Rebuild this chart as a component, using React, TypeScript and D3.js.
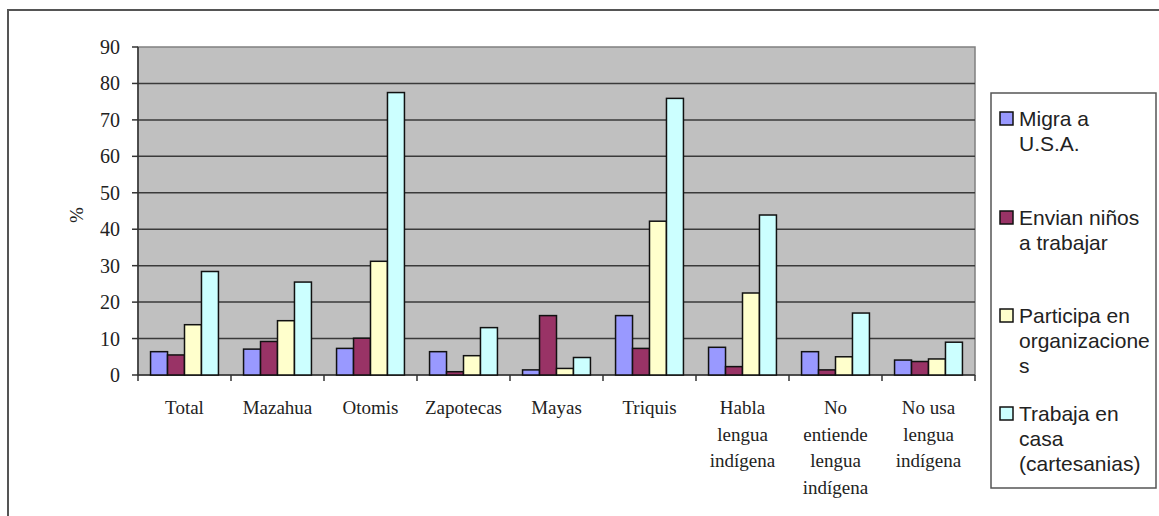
import { useEffect, useRef } from 'react';
import * as d3 from 'd3';

const categories = [
  ["Total"],
  ["Mazahua"],
  ["Otomis"],
  ["Zapotecas"],
  ["Mayas"],
  ["Triquis"],
  ["Habla", "lengua", "indígena"],
  ["No", "entiende", "lengua", "indígena"],
  ["No usa", "lengua", "indígena"],
];

const seriesNames = [
  ["Migra a", "U.S.A."],
  ["Envian niños", "a trabajar"],
  ["Participa en", "organizacione", "s"],
  ["Trabaja en", "casa", "(cartesanias)"],
];

const seriesColors = ["#9999FF", "#993366", "#FFFFCC", "#CCFFFF"];

// one array per series, in category order
const migra = [6.4, 7.1, 7.3, 6.4, 1.4, 16.3, 7.6, 6.4, 4.1];
const envian = [5.5, 9.2, 10.1, 0.9, 16.3, 7.3, 2.3, 1.4, 3.7];
const participa = [13.8, 14.9, 31.2, 5.3, 1.8, 42.2, 22.5, 5.0, 4.4];
const trabaja = [28.4, 25.5, 77.5, 13.0, 4.8, 75.9, 43.9, 17.0, 9.0];

const yTicks = [0, 10, 20, 30, 40, 50, 60, 70, 80, 90];

export default function App() {
  const svgRef = useRef<SVGSVGElement>(null);

  useEffect(() => {
    if (!svgRef.current) return;
    const svg = d3.select(svgRef.current);
    svg.selectAll("*").remove();

    const W = 1159, H = 516;
    const plot = { left: 138, top: 47, right: 975, bottom: 375 };
    const serif = "'Liberation Serif', 'Times New Roman', serif";
    const sans = "'Liberation Sans', Arial, sans-serif";
    const values = [migra, envian, participa, trabaja];

    // outer frame (cut off at right and bottom like the source)
    svg.append("rect")
      .attr("x", 8).attr("y", 10)
      .attr("width", W + 20).attr("height", H + 20)
      .style("fill", "white")
      .style("stroke", "#555")
      .style("stroke-width", 2);

    const y = d3.scaleLinear().domain([0, 90]).range([plot.bottom, plot.top]);
    const x0 = d3.scaleBand<number>()
      .domain(d3.range(categories.length))
      .range([plot.left, plot.right]);
    const gap = x0.bandwidth() * 0.135;
    const x1 = d3.scaleBand<number>()
      .domain(d3.range(values.length))
      .range([gap, x0.bandwidth() - gap]);

    // plot background
    svg.append("rect")
      .attr("x", plot.left).attr("y", plot.top)
      .attr("width", plot.right - plot.left)
      .attr("height", plot.bottom - plot.top)
      .style("fill", "#C0C0C0")
      .style("stroke", "#808080")
      .style("stroke-width", 1.5);

    // gridlines
    yTicks.filter(t => t > 0 && t < 90).forEach(t => {
      svg.append("line")
        .attr("x1", plot.left).attr("x2", plot.right)
        .attr("y1", y(t)).attr("y2", y(t))
        .style("stroke", "#3a3a3a")
        .style("stroke-width", 1.5);
    });

    // y axis
    svg.append("line")
      .attr("x1", plot.left).attr("x2", plot.left)
      .attr("y1", plot.top).attr("y2", plot.bottom)
      .style("stroke", "#333").style("stroke-width", 1.5);
    yTicks.forEach(t => {
      svg.append("line")
        .attr("x1", plot.left - 6).attr("x2", plot.left)
        .attr("y1", y(t)).attr("y2", y(t))
        .style("stroke", "#333").style("stroke-width", 1.5);
      svg.append("text")
        .attr("x", 120).attr("y", y(t))
        .attr("text-anchor", "end")
        .attr("dominant-baseline", "central")
        .style("font-family", serif)
        .style("font-size", "20px")
        .style("fill", "#222")
        .text(t);
    });

    svg.append("text")
      .attr("transform", `translate(76,215) rotate(-90)`)
      .attr("text-anchor", "middle")
      .attr("dominant-baseline", "central")
      .style("font-family", serif)
      .style("font-size", "19px")
      .style("fill", "#222")
      .text("%");

    // x axis
    svg.append("line")
      .attr("x1", plot.left).attr("x2", plot.right)
      .attr("y1", plot.bottom).attr("y2", plot.bottom)
      .style("stroke", "#333").style("stroke-width", 1.5);
    d3.range(categories.length + 1).forEach(i => {
      const xx = i < categories.length ? x0(i)! : plot.right;
      svg.append("line")
        .attr("x1", xx).attr("x2", xx)
        .attr("y1", plot.bottom).attr("y2", plot.bottom + 6)
        .style("stroke", "#333").style("stroke-width", 1.5);
    });

    categories.forEach((lines, i) => {
      const t = svg.append("text")
        .attr("text-anchor", "middle")
        .style("font-family", serif)
        .style("font-size", "19px")
        .style("fill", "#222");
      lines.forEach((ln, j) => {
        t.append("tspan")
          .attr("x", x0(i)! + x0.bandwidth() / 2)
          .attr("y", 414 + j * 26.5)
          .text(ln);
      });
    });

    // bars
    values.forEach((vals, s) => {
      svg.append("g").selectAll("rect")
        .data(vals)
        .enter()
        .append("rect")
        .attr("x", (_, i) => x0(i)! + x1(s)!)
        .attr("y", d => y(d))
        .attr("width", x1.bandwidth())
        .attr("height", d => plot.bottom - y(d))
        .style("fill", seriesColors[s])
        .style("stroke", "#111")
        .style("stroke-width", 1.5);
    });

    // legend
    svg.append("rect")
      .attr("x", 991).attr("y", 93)
      .attr("width", 165).attr("height", 395)
      .style("fill", "white")
      .style("stroke", "#555")
      .style("stroke-width", 1.5);

    const entryY = [118, 217, 315, 413];
    seriesNames.forEach((lines, s) => {
      svg.append("rect")
        .attr("x", 1000).attr("y", entryY[s] - 6)
        .attr("width", 13).attr("height", 13)
        .style("fill", seriesColors[s])
        .style("stroke", "#111")
        .style("stroke-width", 1.5);
      const t = svg.append("text")
        .style("font-family", sans)
        .style("font-size", "21px")
        .style("fill", "#222");
      lines.forEach((ln, j) => {
        t.append("tspan")
          .attr("x", 1019)
          .attr("y", entryY[s] + 25 * j)
          .attr("dy", "0.36em")
          .text(ln);
      });
    });
  }, []);

  return (
    <svg
      ref={svgRef}
      width={1159}
      height={516}
      style={{ position: 'absolute', left: 0, top: 0, background: 'white' }}
    />
  );
}
